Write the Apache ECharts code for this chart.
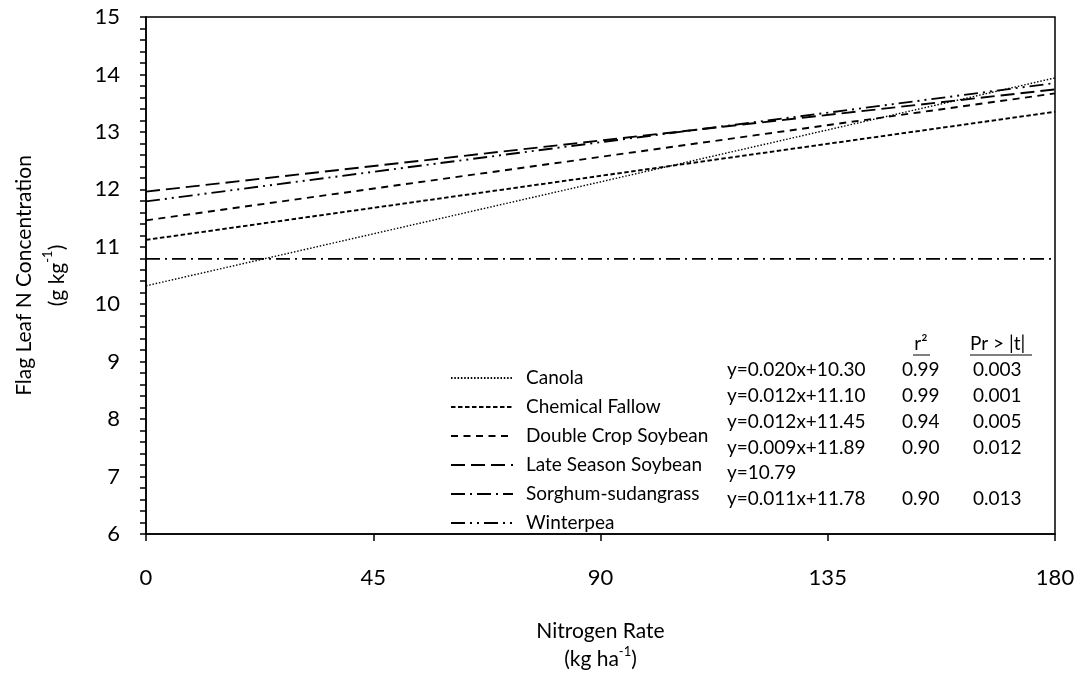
<!DOCTYPE html>
<html><head><meta charset="utf-8">
<script src="https://cdn.jsdelivr.net/npm/echarts@6/dist/echarts.min.js"></script>
<style>html,body{margin:0;padding:0;background:#fff}#c{width:1081px;height:680px}</style>
</head><body><div id="c"></div>
<script>
const nitrogenRates = [0, 180];
const seriesNames = ['Canola', 'Chemical Fallow', 'Double Crop Soybean', 'Late Season Soybean', 'Sorghum-sudangrass', 'Winterpea'];
const canola = [10.32, 13.94];
const chemicalFallow = [11.12, 13.35];
const doubleCropSoybean = [11.46, 13.67];
const lateSeasonSoybean = [11.96, 13.74];
const sorghumSudangrass = [10.79, 10.79];
const winterpea = [11.79, 13.85];
const equations = ['y=0.020x+10.30', 'y=0.012x+11.10', 'y=0.012x+11.45', 'y=0.009x+11.89', 'y=10.79', 'y=0.011x+11.78'];
const r2Values = ['0.99', '0.99', '0.94', '0.90', '', '0.90'];
const prValues = ['0.003', '0.001', '0.005', '0.012', '', '0.013'];

const allValues = [canola, chemicalFallow, doubleCropSoybean, lateSeasonSoybean, sorghumSudangrass, winterpea];
const dashes = [[1.5, 1.8], [4.5, 2.5], [7, 5.5], [14, 6], [14, 5, 2, 5], [14, 5, 2, 5, 2, 5]];
const widths = [1.4, 1.9, 1.9, 1.9, 1.9, 1.9];
const FONT = 'Lato';
const SMALL = 19;

const chart = echarts.init(document.getElementById('c'), null, {renderer: 'canvas'});
const series = seriesNames.map((n, i) => ({
  name: n, type: 'line', symbol: 'none', silent: true,
  data: nitrogenRates.map((x, j) => [x, allValues[i][j]]),
  itemStyle: {color: '#000'},
  lineStyle: {color: '#000', width: widths[i], type: dashes[i]}
}));

const rowY = [370.3, 396, 421.7, 447.4, 473, 498.8];
const graphics = [];
const txt = (x, y, t, align) => ({type: 'text', x: x, y: y, style: {text: t, font: SMALL + 'px ' + FONT, fill: '#000', textAlign: align || 'left', textVerticalAlign: 'middle'}});
equations.forEach((e, i) => {
  graphics.push(txt(727, rowY[i], e));
  if (r2Values[i]) graphics.push(txt(902, rowY[i], r2Values[i]));
  if (prValues[i]) graphics.push(txt(973, rowY[i], prValues[i]));
});
graphics.push(txt(921, 344, 'r²', 'center'));
graphics.push({type: 'line', shape: {x1: 913, y1: 355, x2: 930, y2: 355}, style: {stroke: '#000', lineWidth: 1}});
graphics.push(txt(970, 344, 'Pr > |t|'));
graphics.push({type: 'line', shape: {x1: 970, y1: 355, x2: 1032, y2: 355}, style: {stroke: '#000', lineWidth: 1}});

chart.setOption({
  animation: false,
  backgroundColor: '#fff',
  grid: {left: 141, right: 26, top: 17, bottom: 146, show: true, borderColor: '#000', borderWidth: 1.5, backgroundColor: 'transparent'},
  legend: {
    orient: 'vertical', left: 445, top: 363, itemWidth: 62, itemHeight: 20, itemGap: 9,
    data: seriesNames, selectedMode: false,
    itemStyle: {opacity: 0},
    textStyle: {fontFamily: FONT, fontSize: SMALL, color: '#000', lineHeight: 20, padding: [0, 0, 0, 8]}
  },
  xAxis: {
    type: 'value', min: 0, max: 180, interval: 45,
    name: 'Nitrogen Rate\n(kg ha{sup|-1})', nameLocation: 'middle', nameGap: 83,
    nameTextStyle: {fontFamily: FONT, fontSize: 21, color: '#000', lineHeight: 28, verticalAlign: 'top',
      rich: {sup: {fontFamily: FONT, fontSize: 13, lineHeight: 14, verticalAlign: 'top', color: '#000'}}},
    axisLine: {show: true, lineStyle: {color: '#000', width: 1.5}},
    axisTick: {show: true, inside: false, length: 7, lineStyle: {color: '#000', width: 1.5}},
    axisLabel: {fontFamily: FONT, fontSize: 22, color: '#000', margin: 33},
    splitLine: {show: false}
  },
  yAxis: {
    type: 'value', min: 6, max: 15, interval: 1,
    name: 'Flag Leaf N Concentration\n(g kg{sup|-1})', nameLocation: 'middle', nameGap: 72, nameRotate: 90,
    nameTextStyle: {fontFamily: FONT, fontSize: 21, color: '#000', lineHeight: 33,
      rich: {sup: {fontFamily: FONT, fontSize: 13, lineHeight: 16, verticalAlign: 'top', color: '#000'}}},
    axisLine: {show: true, lineStyle: {color: '#000', width: 1.5}},
    axisTick: {show: true, inside: false, length: 6, lineStyle: {color: '#000', width: 1.5}},
    minorTick: {show: true, splitNumber: 5, length: 6, lineStyle: {color: '#000', width: 1.5}},
    axisLabel: {fontFamily: FONT, fontSize: 22, color: '#000', margin: 26},
    splitLine: {show: false}
  },
  series: series,
  graphic: graphics
});
</script></body></html>
